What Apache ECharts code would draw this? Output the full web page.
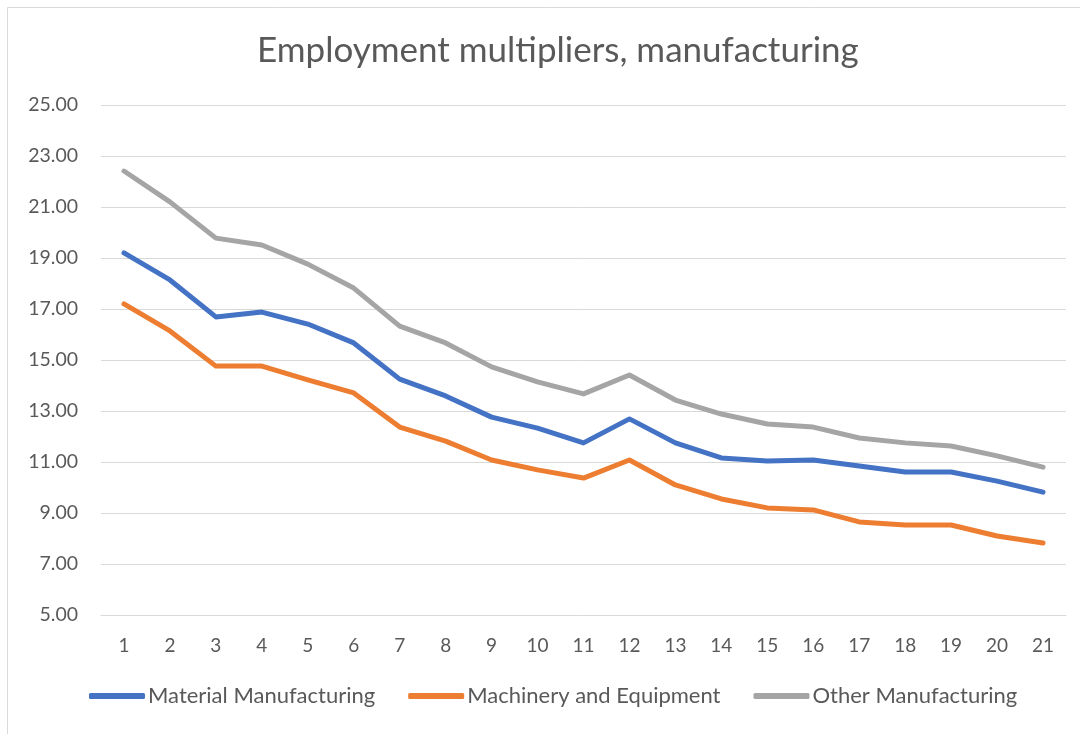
<!DOCTYPE html>
<html>
<head>
<meta charset="utf-8">
<script src="https://cdn.jsdelivr.net/npm/echarts@6/dist/echarts.min.js"></script>
<style>
  html, body { margin: 0; padding: 0; background: #ffffff; }
  #chart { width: 1080px; height: 734px; }
</style>
</head>
<body>
<div id="chart"></div>
<script>
// Periods along the x axis
const periods = ['1','2','3','4','5','6','7','8','9','10','11','12','13','14','15','16','17','18','19','20','21'];

// Employment multipliers by sector
const materialManufacturing = [19.20, 18.14, 16.69, 16.88, 16.41, 15.67, 14.25, 13.59, 12.76, 12.33, 11.75, 12.69, 11.75, 11.16, 11.04, 11.08, 10.84, 10.61, 10.61, 10.25, 9.82];
const machineryEquipment   = [17.20, 16.14, 14.76, 14.76, 14.22, 13.71, 12.37, 11.82, 11.08, 10.69, 10.37, 11.08, 10.10, 9.55, 9.20, 9.12, 8.65, 8.53, 8.53, 8.10, 7.82];
const otherManufacturing   = [22.41, 21.20, 19.78, 19.51, 18.76, 17.82, 16.33, 15.67, 14.73, 14.14, 13.67, 14.41, 13.43, 12.88, 12.49, 12.37, 11.94, 11.75, 11.63, 11.24, 10.80];

const seriesNames = ['Material Manufacturing', 'Machinery and Equipment', 'Other Manufacturing'];
const seriesColors = ['#4472c4', '#ed7d31', '#a5a5a5'];
const seriesData = [materialManufacturing, machineryEquipment, otherManufacturing];

const FONT = 'Lato, "Open Sans", sans-serif';
const TEXT = '#595959';

const chart = echarts.init(document.getElementById('chart'), null, { renderer: 'canvas' });

chart.setOption({
  backgroundColor: '#ffffff',
  animation: false,
  graphic: [{
    type: 'rect',
    shape: { x: 7.5, y: 7.5, width: 1200, height: 900 },
    style: { fill: 'none', stroke: '#d9d9d9', lineWidth: 1 },
    silent: true
  }],
  title: {
    text: 'Employment multipliers, manufacturing',
    left: 252,
    top: 28,
    textStyle: { fontFamily: FONT, fontSize: 35, fontWeight: 'normal', color: TEXT }
  },
  legend: {
    bottom: 22,
    left: 84,
    itemWidth: 56,
    itemHeight: 6,
    itemGap: 33,
    icon: 'roundRect',
    textStyle: { fontFamily: FONT, fontSize: 22, color: TEXT, padding: [0, 0, 0, -2] },
    data: seriesNames
  },
  grid: { left: 101, right: 14, top: 105, bottom: 119, containLabel: false },
  xAxis: {
    type: 'category',
    data: periods,
    boundaryGap: true,
    axisLine: { show: true, lineStyle: { color: '#d9d9d9', width: 1 } },
    axisTick: { show: false },
    axisLabel: { fontFamily: FONT, fontSize: 19, color: TEXT, margin: 21 }
  },
  yAxis: {
    type: 'value',
    min: 5,
    max: 25,
    interval: 2,
    axisLine: { show: false },
    axisTick: { show: false },
    splitLine: { lineStyle: { color: '#d9d9d9', width: 1 } },
    axisLabel: {
      fontFamily: FONT, fontSize: 19.5, color: TEXT, margin: 23,
      formatter: v => v.toFixed(2)
    }
  },
  series: seriesData.map((d, i) => ({
    name: seriesNames[i],
    type: 'line',
    data: d,
    symbol: 'none',
    smooth: false,
    color: seriesColors[i],
    lineStyle: { width: 5, color: seriesColors[i], cap: 'round', join: 'round' },
    itemStyle: { color: seriesColors[i] }
  }))
});
</script>
</body>
</html>
